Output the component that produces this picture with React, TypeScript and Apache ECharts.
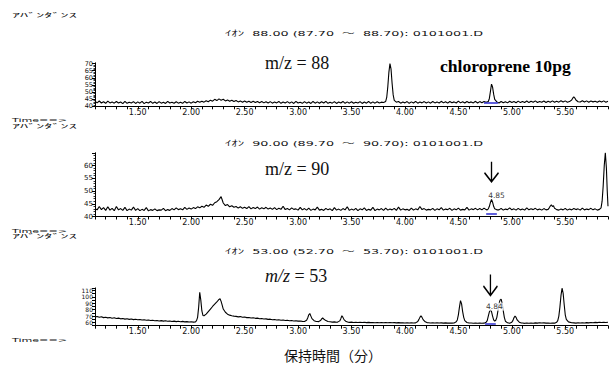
import React, { useEffect, useRef } from "react";
import * as echarts from "echarts";

// ---------- data ----------
const T0 = 1.1;
const STEP = 0.02;

// m/z 88 baseline, every 0.02 min from 1.10 to 5.90
const base88 = [
  43.5,42.4,43.7,42.3,43.2,42.1,43.6,42.4,43.1,42.2,43.4,42.3,43.0,41.9,43.5,42.1,42.9,42.3,43.3,42.0,
  43.1,42.2,43.5,41.9,42.9,42.3,43.4,42.1,43.0,42.0,43.3,42.2,42.9,42.0,43.5,42.3,42.8,42.1,43.2,42.2,
  42.9,42.1,43.4,42.3,43.1,42.2,43.2,42.5,43.5,42.8,43.6,42.9,43.9,43.2,44.3,43.6,44.9,44.0,45.2,44.3,
  44.9,43.8,44.5,43.5,44.2,43.3,44.0,43.1,43.8,42.9,43.7,42.8,43.6,42.7,43.5,42.6,43.4,42.5,43.3,42.4,
  43.2,42.3,43.3,42.2,43.1,42.4,43.4,42.1,43.0,42.3,43.3,42.2,43.1,42.0,43.5,42.3,42.9,42.1,43.3,42.2,
  43.0,42.0,43.4,42.2,43.1,42.1,43.2,42.3,43.5,42.1,42.9,42.2,43.3,42.0,43.0,42.3,43.4,42.1,43.1,42.2,
  43.2,42.1,42.9,42.3,43.3,42.0,43.0,42.2,43.4,42.1,43.1,42.2,43.2,42.3,42.9,42.1,43.3,42.4,43.2,42.6,
  43.2,42.3,43.4,42.2,43.0,42.4,43.3,42.1,43.1,42.3,43.5,42.2,43.0,42.4,43.3,42.3,43.1,42.2,43.4,42.4,
  43.1,42.3,43.5,42.4,43.2,42.2,43.4,42.5,43.1,42.3,43.6,42.4,43.2,42.3,43.4,42.5,43.1,42.4,43.5,42.3,
  43.3,42.5,43.4,42.4,43.1,42.6,43.5,42.4,43.3,42.3,43.4,42.5,43.2,42.4,43.5,42.6,43.3,42.5,43.6,42.6,
  43.4,42.7,43.7,42.6,43.5,42.8,43.8,42.7,43.4,42.8,43.7,42.7,43.6,42.9,43.8,42.8,43.5,42.9,43.9,43.0,
  43.8,42.9,43.7,43.0,44.0,43.1,43.7,43.0,43.9,43.0,43.8,42.9,43.7,43.1,43.6,42.8,43.7,43.0,43.8,42.9,
  43.6,
];
const peaks88 = [
  [[3.80,42.7],[3.82,43.4],[3.83,46.5],[3.84,54],[3.85,64],[3.86,70],[3.87,66],[3.88,56],[3.89,48],[3.90,44.2],[3.92,42.9]],
  [[4.76,42.8],[4.78,43.4],[4.79,45.5],[4.80,50.5],[4.81,55.5],[4.82,53.5],[4.83,48.5],[4.84,44.8],[4.86,43.1]],
  [[5.54,43.3],[5.56,44.4],[5.57,45.7],[5.58,46.6],[5.59,45.8],[5.60,44.4],[5.62,43.2]],
];

// m/z 90 baseline
const base90 = [
  43.0,42.6,43.9,42.7,43.5,42.4,43.8,42.5,43.2,42.3,43.9,42.6,43.1,42.4,43.6,42.3,42.9,42.5,43.7,42.4,
  43.1,42.3,42.8,42.4,43.5,42.2,42.7,42.4,43.0,42.3,42.6,42.5,43.2,42.3,42.7,42.4,43.1,42.6,43.4,42.7,
  43.0,42.6,43.6,42.8,43.3,42.9,43.5,43.1,43.8,43.4,44.0,43.6,44.5,44.0,44.8,44.4,45.4,45.8,46.6,47.8,
  45.3,44.3,44.7,43.8,44.2,43.6,43.9,43.3,43.8,43.2,43.6,43.1,43.9,43.0,43.5,43.1,43.7,42.9,43.4,43.0,
  43.6,42.9,43.3,42.8,43.5,42.7,43.2,42.8,44.0,42.7,43.1,42.6,43.4,42.8,43.0,42.5,43.6,42.6,43.1,42.5,
  43.3,42.4,42.9,42.6,43.7,42.5,42.8,42.4,43.2,42.6,43.0,42.3,43.5,42.5,42.9,42.4,43.1,42.6,43.8,42.4,
  42.9,42.5,43.2,42.3,43.0,42.6,43.4,42.4,42.8,42.5,43.6,42.3,42.9,42.6,43.1,42.4,43.3,42.5,42.9,42.6,
  43.2,42.4,43.7,42.5,43.0,42.6,42.8,42.4,43.3,42.5,43.0,42.6,43.9,42.7,43.1,42.5,42.8,42.6,43.2,42.4,
  43.0,42.6,43.5,42.5,42.9,42.7,43.2,42.4,43.0,42.6,43.3,42.5,42.8,42.6,43.6,42.5,43.0,42.7,43.2,42.6,
  43.1,42.6,43.3,42.7,42.9,42.6,43.3,42.5,42.8,42.6,43.2,42.5,42.9,42.7,43.4,42.6,43.0,42.5,43.2,42.6,
  42.9,42.5,43.4,42.6,43.0,42.7,43.2,42.6,42.9,42.5,43.1,42.6,43.3,42.8,43.0,42.6,43.2,42.5,42.9,42.6,
  43.2,42.5,42.9,42.6,43.1,42.7,43.0,42.5,43.3,42.6,42.9,42.7,43.2,42.6,43.0,42.5,42.9,43.4,43.0,42.8,
  43.2,
];
const peaks90 = [
  [[4.77,42.6],[4.78,43.0],[4.79,44.0],[4.80,45.5],[4.81,46.7],[4.82,45.6],[4.83,44.0],[4.84,43.0],[4.86,42.6]],
  [[5.34,42.8],[5.35,43.4],[5.36,44.1],[5.37,44.6],[5.38,43.9],[5.39,44.2],[5.40,43.2],[5.42,42.7]],
  [[5.82,42.8],[5.835,43.4],[5.845,46],[5.855,52],[5.865,60],[5.875,65],[5.885,59],[5.893,50],[5.90,44]],
];

// m/z 53 baseline
const base53 = [
  68.6,69.4,68.2,68.9,67.6,68.3,67.2,67.8,66.7,67.3,66.2,66.8,65.7,66.3,65.3,65.8,64.9,65.4,64.5,65.0,
  64.2,64.6,63.8,64.2,63.4,63.9,63.0,63.5,62.7,63.2,62.4,62.9,62.1,62.6,61.9,62.4,61.6,62.1,61.4,61.9,
  61.2,61.7,61.0,61.4,60.8,61.2,60.6,61.0,70.0,100,74.0,71.0,74.0,78.0,82.0,86.0,89.0,93.0,96.5,92.0,
  82.0,76.0,73.0,71.5,70.5,70.0,69.6,68.8,69.2,68.1,68.5,67.6,67.9,67.0,67.3,66.5,66.8,65.9,66.2,65.4,
  65.7,64.9,65.2,64.4,64.7,63.9,64.2,63.5,63.8,63.0,63.4,62.7,63.0,62.4,62.7,62.1,62.4,61.8,62.1,61.6,
  61.9,61.4,61.7,61.2,61.5,61.0,61.4,60.9,61.2,60.8,61.1,60.6,61.0,60.5,60.9,60.4,60.8,60.3,60.7,60.2,
  60.6,60.1,60.5,60.0,60.4,59.9,60.3,59.8,60.2,59.8,60.1,59.7,60.1,59.6,60.0,59.6,59.9,59.5,59.9,59.5,
  59.8,59.4,59.8,59.4,59.7,59.3,59.7,59.3,59.6,59.3,59.6,59.2,59.6,59.2,59.5,59.2,59.5,59.1,59.5,59.1,
  59.4,59.1,59.4,59.0,59.4,59.0,59.3,59.0,59.3,58.9,59.3,58.9,59.3,58.9,59.2,58.9,59.2,58.9,59.2,58.8,
  59.2,58.8,59.1,58.8,59.1,58.8,59.1,58.7,59.1,58.7,59.0,58.7,59.0,58.7,59.0,58.7,59.0,58.6,59.0,58.6,
  59.1,58.7,59.2,58.8,59.3,58.9,59.4,59.0,59.5,59.1,59.4,59.0,59.3,58.9,59.2,58.8,59.1,58.8,59.1,58.7,
  59.1,58.8,59.2,58.9,59.4,59.0,59.5,59.1,59.6,59.2,59.8,59.4,60.0,59.6,60.2,59.8,60.4,60.0,60.5,60.1,
  60.4,
];
const peaks53 = [
  [[2.04,61.0],[2.05,63],[2.06,68],[2.07,84],[2.08,107],[2.09,95],[2.10,78],[2.11,71],[2.12,70.5],[2.14,73],[2.16,77],[2.18,81],[2.20,85],[2.22,88.5],[2.24,92],[2.26,96],[2.27,97],[2.28,93],[2.29,87],[2.30,81],[2.32,76],[2.34,73],[2.36,71.5],[2.38,70.6],[2.40,70.0]],
  [[3.06,61.5],[3.08,63.5],[3.09,67],[3.10,72],[3.11,74],[3.12,70],[3.13,66],[3.15,62.8],[3.17,61.6]],
  [[3.19,61.3],[3.21,63],[3.22,65.5],[3.23,67],[3.24,65.5],[3.26,63],[3.28,61.5]],
  [[3.37,60.6],[3.39,62.5],[3.40,66],[3.41,70.5],[3.42,68],[3.43,64.5],[3.45,61.5],[3.47,60.5]],
  [[4.10,59.4],[4.12,61.5],[4.13,64.5],[4.14,68],[4.15,70.5],[4.16,68],[4.17,64.5],[4.19,61],[4.21,59.5]],
  [[4.46,59.3],[4.48,61],[4.49,64],[4.50,72],[4.51,84],[4.52,94],[4.53,89],[4.54,77],[4.55,68],[4.56,63],[4.58,60],[4.60,59.2]],
  [[4.74,59.0],[4.76,60.5],[4.77,63],[4.78,70],[4.79,76.5],[4.80,80],[4.81,77],[4.82,70],[4.83,64],[4.84,62],[4.85,63.5],[4.86,68],[4.87,78],[4.88,89],[4.89,95],[4.90,96.5],[4.91,90],[4.92,78],[4.93,68],[4.94,62],[4.96,59.5]],
  [[4.98,58.9],[5.00,60.5],[5.01,63],[5.02,67.5],[5.03,70],[5.04,68],[5.05,64],[5.07,60.5],[5.09,59.2]],
  [[5.40,59.0],[5.42,60.5],[5.43,63],[5.44,70],[5.45,84],[5.46,102],[5.47,113.5],[5.48,106],[5.49,88],[5.50,72],[5.51,65],[5.53,61],[5.56,59.5]],
];

// tick labels
const xTickLabels = ["1.50", "2.00", "2.50", "3.00", "3.50", "4.00", "4.50", "5.00", "5.50"];
const yTicks88 = [40, 45, 50, 55, 60, 65, 70];
const yTicks90 = [40, 45, 50, 55, 60];
const yTicks53 = [60, 70, 80, 90, 100, 110];

// annotations
const titles = [
  "ｲｵﾝ  88.00 (87.70  〜  88.70): 0101001.D",
  "ｲｵﾝ  90.00 (89.70  〜  90.70): 0101001.D",
  "ｲｵﾝ  53.00 (52.70  〜  53.70): 0101001.D",
];
const abundanceLabel = "ｱﾊﾞﾝﾀﾞﾝｽ";
const timeLabel = "Time==>";
const ionLabels = ["m/z = 88", "m/z = 90", "{i|m/z} = 53"];
const sampleLabel = "chloroprene 10pg";
const xAxisTitle = "保持時間（分）";
const rtLabel90 = "4.85";
const rtLabel53 = "4.84";
const integ88 = [[4.74, 42.5], [4.87, 42.5]];
const integ90 = [[4.76, 41.0], [4.86, 41.0]];
const integ53 = [[4.75, 57.3], [4.85, 57.3]];
const apex90 = [4.81, 46.7];
const apex53 = [4.80, 80];

function buildSeries(base: number[], peaks: number[][][]): number[][] {
  const pts: number[][] = [];
  base.forEach((v, i) => {
    const t = +(T0 + i * STEP).toFixed(3);
    if (!peaks.some((p) => t >= p[0][0] - 1e-9 && t <= p[p.length - 1][0] + 1e-9)) pts.push([t, v]);
  });
  peaks.forEach((p) => p.forEach((q) => pts.push(q)));
  pts.sort((a, b) => a[0] - b[0]);
  return pts;
}

const LABEL_FONT = "DejaVu Sans";
const JP_FONT = '"DejaVu Sans", "Noto Sans CJK JP"';

export default function App() {
  const ref = useRef<HTMLDivElement>(null);
  useEffect(() => {
    if (!ref.current) return;
    document.body.style.margin = "0";
    const chart = echarts.init(ref.current, undefined, { renderer: "svg" });

    const grids = [
      { left: 95, right: 0, top: 62.8, height: 43.5 },
      { left: 95, right: 0, top: 152.75, height: 63.75 },
      { left: 95, right: 0, top: 287.9, height: 37.8 },
    ];
    const yDefs = [
      { min: 40, max: 70.5, interval: 5, labels: yTicks88, minor: true, fs: 6.5, lh: 6.5 },
      { min: 40, max: 65, interval: 5, labels: yTicks90, minor: true, fs: 7, lh: 8 },
      { min: 55, max: 114, interval: 5, labels: yTicks53, minor: false, fs: 6, lh: 6 },
    ];
    const axisLine = { show: true, onZero: false, lineStyle: { color: "#000", width: 1 } };
    const xAxis = grids.map((_, i) => ({
      type: "value",
      gridIndex: i,
      min: 1.1,
      max: 5.9,
      interval: 0.1,
      axisLine,
      axisTick: { show: true, length: 3, lineStyle: { color: "#000", width: 1 } },
      splitLine: { show: false },
      axisLabel: {
        margin: 2,
        fontSize: 8,
        fontFamily: LABEL_FONT,
        color: "#111",
        formatter: (v: number) => {
          const s = v.toFixed(2);
          return xTickLabels.includes(s) && Math.abs(v - parseFloat(s)) < 1e-6 ? s : "";
        },
      },
    }));
    const yAxis = yDefs.map((d, i) => ({
      type: "value",
      gridIndex: i,
      min: d.min,
      max: d.max,
      interval: d.interval,
      axisLine,
      axisTick: { show: true, length: 3, lineStyle: { color: "#000", width: 1 } },
      minorTick: { show: d.minor, splitNumber: 5, length: 1.5, lineStyle: { color: "#000", width: 0.8 } },
      splitLine: { show: false },
      minorSplitLine: { show: false },
      axisLabel: {
        margin: 2,
        fontSize: d.fs,
        lineHeight: d.lh,
        fontFamily: LABEL_FONT,
        color: "#111",
        formatter: (v: number) => (d.labels.some((l) => Math.abs(l - v) < 1e-6) ? String(Math.round(v)) : ""),
      },
    }));

    const blueLine = (seg: number[][]) => ({
      silent: true,
      symbol: ["none", "none"],
      label: { show: false },
      lineStyle: { color: "#2a2ad0", width: 1.5, type: "solid" },
      data: [[{ coord: seg[0] }, { coord: seg[1] }]],
    });
    const arrowPath = "path://M5 0 L5 20 M0 11 L5 20 L10 11";
    const arrowPoint = (apex: number[], dy: number, h: number) => ({
      coord: apex,
      symbol: arrowPath,
      symbolSize: [14, h],
      symbolOffset: [0, dy],
      itemStyle: { color: "rgba(0,0,0,0)", borderColor: "#000", borderWidth: 1.6 },
      label: { show: false },
    });
    // retention-time label as a tiny scatter series so its text is plain black
    const rtSeries = (idx: number, apex: number[], text: string, off: number[], bg: string) => ({
      type: "scatter",
      xAxisIndex: idx,
      yAxisIndex: idx,
      silent: true,
      z: 5,
      symbolSize: 0,
      itemStyle: { color: "#000" },
      data: [apex],
      label: {
        show: true,
        position: "top",
        distance: 0,
        offset: off,
        formatter: () => text,
        fontSize: 7.5,
        lineHeight: 8,
        fontFamily: LABEL_FONT,
        color: "#000",
        textBorderWidth: 0,
        backgroundColor: bg,
        padding: [0, 1],
      },
    });

    const lineBase = {
      type: "line",
      showSymbol: false,
      symbol: "none",
      lineStyle: { color: "#000", width: 1.1 },
      itemStyle: { color: "#000" },
      silent: true,
    };

    const series = [
      { ...lineBase, xAxisIndex: 0, yAxisIndex: 0, data: buildSeries(base88, peaks88), markLine: blueLine(integ88) },
      {
        ...lineBase, xAxisIndex: 1, yAxisIndex: 1, data: buildSeries(base90, peaks90), markLine: blueLine(integ90),
        markPoint: { silent: true, data: [arrowPoint(apex90, -27.7, 20)] },
      },
      {
        ...lineBase, xAxisIndex: 2, yAxisIndex: 2, data: buildSeries(base53, peaks53), markLine: blueLine(integ53),
        markPoint: { silent: true, data: [arrowPoint(apex53, -24.7, 21)] },
      },
      rtSeries(1, apex90, rtLabel90, [5, 0], "transparent"),
      rtSeries(2, apex53, rtLabel53, [4, 1], "#fff"),
    ];

    const smallText = (text: string, x: number, y: number, size: number, sx: number) => ({
      type: "text",
      x,
      y,
      scaleX: sx,
      silent: true,
      style: {
        text,
        fontSize: size,
        lineHeight: size,
        fontFamily: JP_FONT,
        fill: "#111",
        textAlign: "left",
        textVerticalAlign: "middle",
        align: "left",
        verticalAlign: "middle",
      },
    });
    const titleY = [33, 143.3, 251.5];
    const abY = [15, 126, 236.5];
    const timeY = [120.3, 230.8, 340];
    const ionY = [63, 169, 276];
    const graphic: any[] = [];
    titles.forEach((t, i) => graphic.push(smallText(t, 225, titleY[i], 7.5, 1.7)));
    abY.forEach((y) => graphic.push(smallText(abundanceLabel, 12, y, 6, 2.7)));
    timeY.forEach((y) => graphic.push(smallText(timeLabel, 12, y, 6, 1.85)));
    ionLabels.forEach((t, i) =>
      graphic.push({
        type: "text",
        x: 265,
        y: ionY[i],
        silent: true,
        style: {
          text: t,
          fontSize: 18,
          fontFamily: "Liberation Serif",
          fill: "#111",
          textAlign: "left",
          textVerticalAlign: "middle",
          align: "left",
          verticalAlign: "middle",
          rich: { i: { fontSize: 18, fontFamily: "Liberation Serif", fontStyle: "italic", fill: "#111" } },
        },
      })
    );
    graphic.push({
      type: "text",
      x: 440,
      y: 67,
      scaleX: 1.1,
      silent: true,
      style: {
        text: sampleLabel,
        fontSize: 16,
        fontWeight: "bold",
        fontFamily: "Liberation Serif",
        fill: "#000",
        textAlign: "left",
        textVerticalAlign: "middle",
        align: "left",
        verticalAlign: "middle",
      },
    });
    graphic.push({
      type: "text",
      x: 333,
      y: 355,
      silent: true,
      style: {
        text: xAxisTitle,
        fontSize: 14,
        fontFamily: '"Noto Sans CJK JP"',
        fill: "#111",
        textAlign: "center",
        textVerticalAlign: "middle",
        align: "center",
        verticalAlign: "middle",
      },
    });

    chart.setOption({
      animation: false,
      backgroundColor: "#fff",
      grid: grids,
      xAxis,
      yAxis,
      series,
      graphic,
    });
    return () => chart.dispose();
  }, []);
  return <div ref={ref} style={{ position: "fixed", left: 0, top: 0, width: 611, height: 367 }} />;
}
